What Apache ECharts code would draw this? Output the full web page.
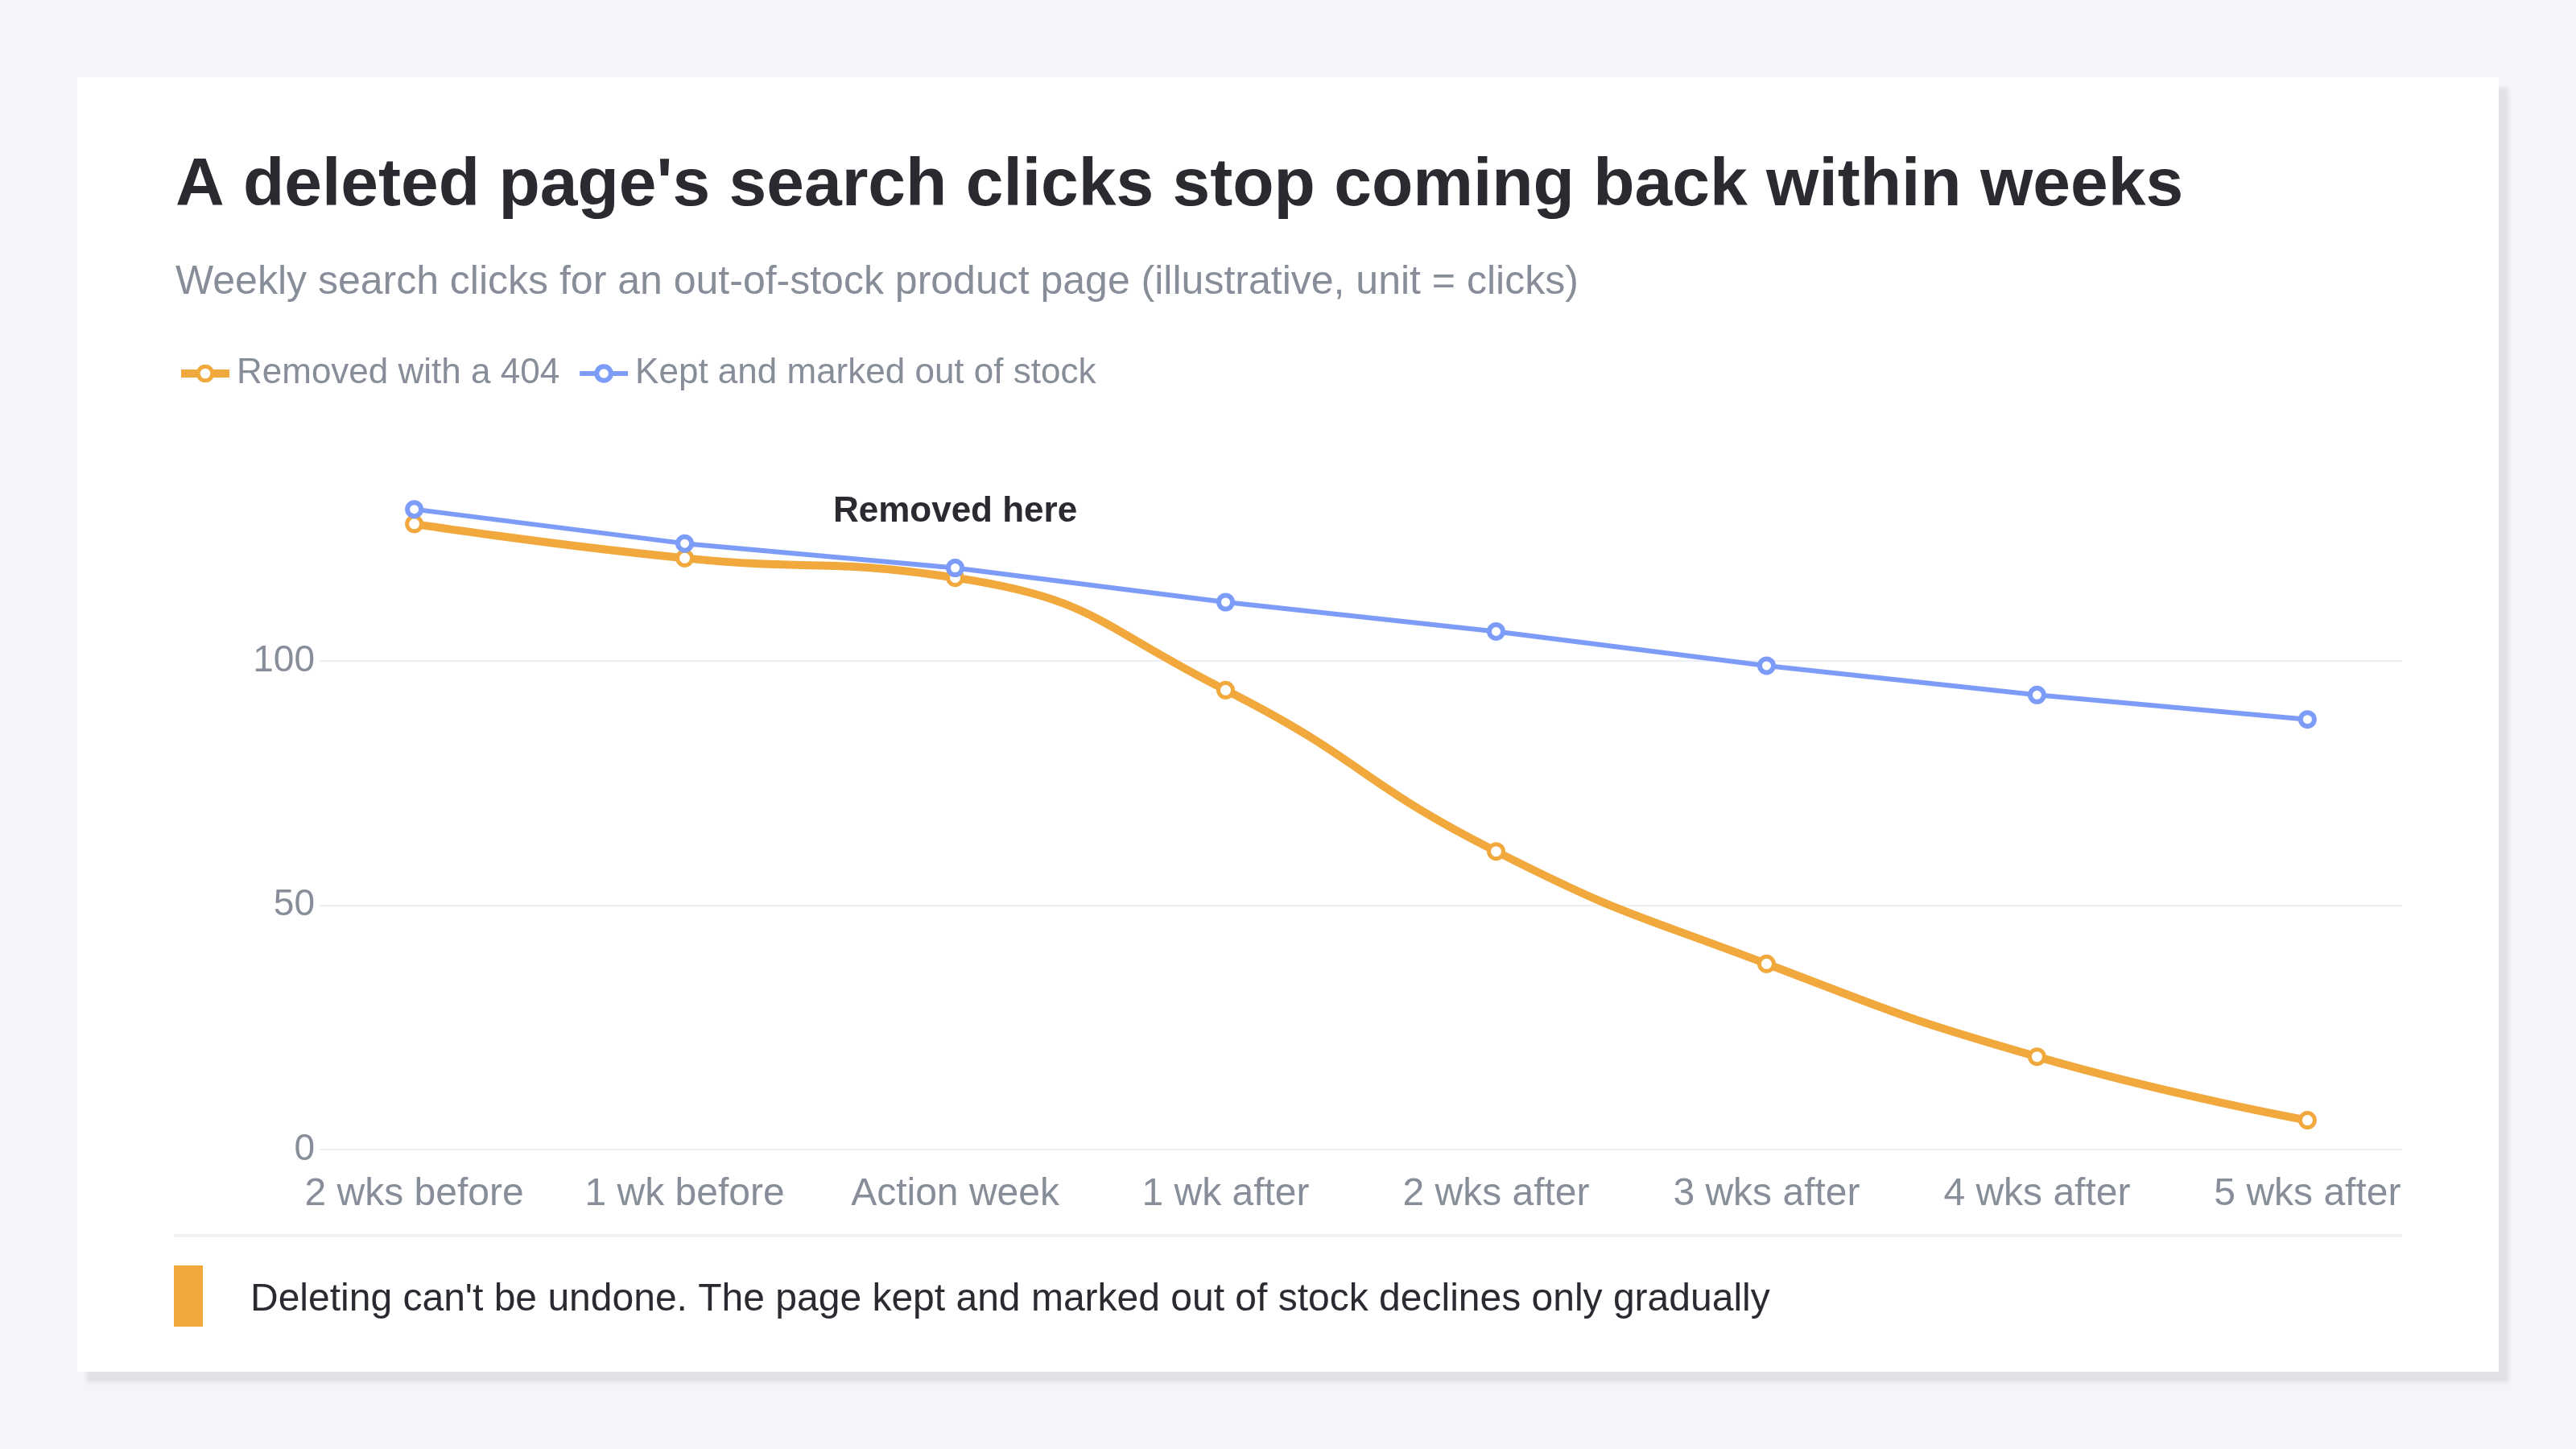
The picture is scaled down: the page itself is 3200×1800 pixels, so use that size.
<!DOCTYPE html>
<html>
<head>
<meta charset="utf-8">
<title>Deleted page search clicks</title>
<script src="https://cdn.jsdelivr.net/npm/echarts@6/dist/echarts.min.js"></script>
<style>
  html, body { margin: 0; padding: 0; background: #f4f5f9; }
  #card {
    position: absolute; left: 96px; top: 96px; width: 3008px; height: 1608px;
    background: #fff; box-shadow: 12px 13px 5px rgba(30, 36, 60, 0.09);
  }
  #chart { position: absolute; left: 0; top: 0; width: 3200px; height: 1800px; }
</style>
</head>
<body>
<div id="card"></div>
<div id="chart"></div>
<script>
let weeks = ["2 wks before", "1 wk before", "Action week", "1 wk after",
    "2 wks after", "3 wks after", "4 wks after", "5 wks after"];
let removed404 = [128, 121, 117, 94, 61, 38, 19, 6];
let keptOutOfStock = [131, 124, 119, 112, 106, 99, 93, 88];
let seriesNames = ["Removed with a 404", "Kept and marked out of stock"];
let actionIndex = 2;
let noteTop = 126;

let titleText = "A deleted page's search clicks stop coming back within weeks";
let subtitleText = "Weekly search clicks for an out-of-stock product page (illustrative, unit = clicks)";
let footerText = "Deleting can't be undone. The page kept and marked out of stock declines only gradually";

let orange = "#f1a83c";
let blue = "#7d9cf7";
let gray = "#878d99";
let ink = "#2a2b31";
let font = "'Liberation Sans', Arial, Helvetica, sans-serif";

// value axis so the points sit inset from the grid edges
let toPairs = arr => arr.map((v, i) => [i, v]);

let myChart = echarts.init(document.getElementById('chart'));
let option = {
    animation: false,
    backgroundColor: 'transparent',
    textStyle: { fontFamily: font },
    title: [
        { text: titleText, left: 218, top: 190, padding: 0,
          textStyle: { fontSize: 84, fontWeight: 'bold', color: ink, fontFamily: font } },
        { text: subtitleText, left: 218, top: 326, padding: 0,
          textStyle: { fontSize: 50, fontWeight: 'normal', color: gray, fontFamily: font } }
    ],
    legend: {
        left: 220, top: 442, padding: 0,
        itemWidth: 60, itemHeight: 22, itemGap: 22,
        lineStyle: { width: 'inherit' },
        itemStyle: { borderWidth: 'inherit' },
        textStyle: { fontSize: 44, color: gray, padding: [0, 0, 0, 4], fontFamily: font },
        data: seriesNames
    },
    grid: { left: 397, right: 216, top: 578, bottom: 372, containLabel: false },
    xAxis: {
        type: 'value', min: -0.35, max: 7.35,
        axisLine: { show: false }, axisTick: { show: false }, splitLine: { show: false },
        axisLabel: {
            customValues: weeks.map((w, i) => i),
            formatter: v => weeks[Math.round(v)],
            fontSize: 48, color: gray, margin: 32, fontFamily: font
        }
    },
    yAxis: {
        type: 'value', min: 0, max: 140, interval: 50,
        axisLine: { show: false }, axisTick: { show: false },
        axisLabel: { fontSize: 46, color: gray, margin: 6, padding: [5, 0, 0, 0],
                     showMaxLabel: false, fontFamily: font },
        splitLine: { showMaxLine: false, lineStyle: { color: '#eceef2', width: 2 } }
    },
    series: [
        {
            name: seriesNames[0], type: 'line', smooth: true, clip: false,
            data: toPairs(removed404),
            symbol: 'circle', symbolSize: 18,
            lineStyle: { color: orange, width: 10 },
            itemStyle: { color: '#fff', borderColor: orange, borderWidth: 5 },
            markLine: {
                silent: true, symbol: 'none',
                lineStyle: { color: 'rgba(0,0,0,0)', width: 1, type: 'solid' },
                label: {
                    show: true, position: 'end', formatter: 'Removed here',
                    fontSize: 44, fontWeight: 'bold', color: ink, fontFamily: font
                },
                data: [[{ coord: [actionIndex, 0] }, { coord: [actionIndex, noteTop] }]]
            }
        },
        {
            name: seriesNames[1], type: 'line', clip: false,
            data: toPairs(keptOutOfStock),
            symbol: 'circle', symbolSize: 17,
            lineStyle: { color: blue, width: 6 },
            itemStyle: { color: '#fff', borderColor: blue, borderWidth: 6 }
        }
    ],
    graphic: [
        { type: 'rect', silent: true, shape: { x: 216, y: 1533, width: 2768, height: 4 },
          style: { fill: '#edeff3' } },
        { type: 'rect', silent: true, shape: { x: 216, y: 1572, width: 36, height: 76 },
          style: { fill: orange } },
        { type: 'text', silent: true, x: 311, y: 1615,
          style: { text: footerText, fontSize: 48, fontFamily: font, fill: ink,
                   verticalAlign: 'middle', align: 'left' } }
    ]
};
myChart.setOption(option);
</script>
</body>
</html>
